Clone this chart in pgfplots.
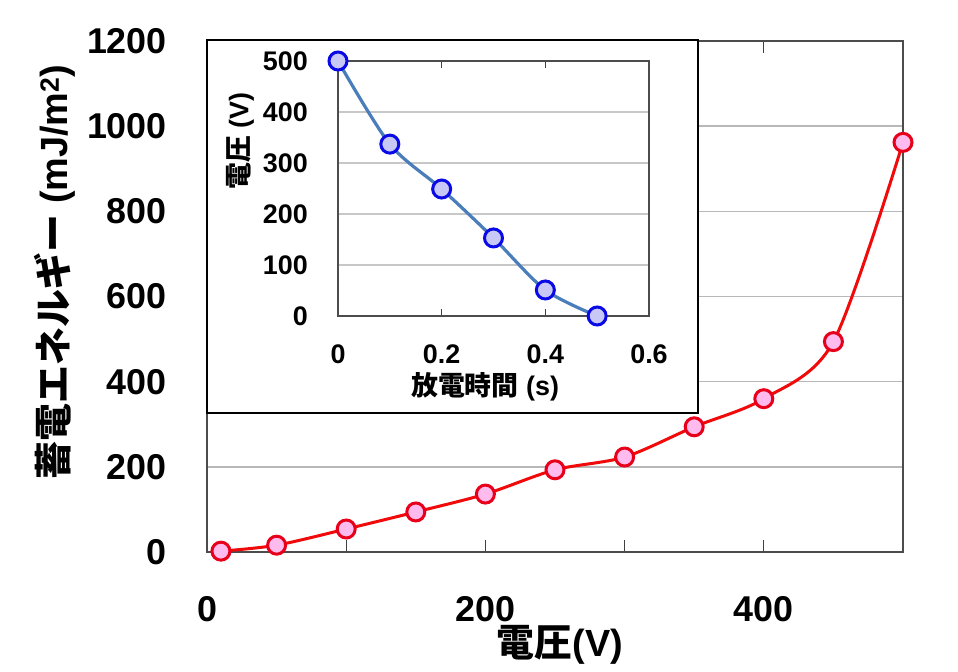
\documentclass[border=0pt]{standalone}
\usepackage{fontspec}
\setmainfont{Liberation Sans}
\newfontfamily\jp{Noto Sans CJK JP}
\usepackage{pgfplots}
\pgfplotsset{compat=1.18}
\definecolor{redline}{HTML}{F00A0A}
\definecolor{redmark}{HTML}{E8001A}
\definecolor{pinkfill}{HTML}{FFBBEE}
\definecolor{blueline}{HTML}{4A7EBB}
\definecolor{bluemark}{HTML}{0A0AE6}
\definecolor{bluefill}{HTML}{C8C8F6}
\begin{document}
\begin{tikzpicture}
\useasboundingbox (0,0) rectangle (958bp,672bp);
% main axis
\begin{axis}[
  at={(207bp,120bp)}, anchor=south west, scale only axis,
  width=696bp, height=511bp,
  xmin=0, xmax=500, ymin=0, ymax=1200,
  xtick={0,100,200,300,400,500},
  xticklabels={0,,200,,400,},
  ytick={0,200,400,600,800,1000,1200},
  yticklabels={0,200,400,600,800,1000,1200},
  ymajorgrids,
  grid style={black!28, line width=1.6bp},
  axis line style={black!70, line width=1.3bp},
  tick align=inside,
  major tick length=12bp,
  ytick style={draw=none},
  xtick style={black!75, line width=1.3bp},
  /pgf/number format/assume math mode=true,
  tick label style={font=\bfseries\fontsize{36}{36}\selectfont, inner sep=0pt},
  yticklabel style={xshift=-40bp, anchor=east},
  xticklabel style={yshift=-44bp, anchor=north},
  xlabel={{\jp\bfseries 電圧}(V)},
  ylabel={{\jp\bfseries 蓄電エネルギー} (mJ/m\textsuperscript{2})},
  label style={font=\bfseries\fontsize{38}{38}\selectfont},
  xlabel style={at={(axis description cs:0.507,-0.182)}, anchor=center},
  ylabel style={at={(axis description cs:-0.218,0.548)}, anchor=center},
  clip=false,
]
\addplot[redline, line width=3bp, smooth, tension=0.5,
  mark=*, mark size=9bp, mark options={draw=redmark, fill=pinkfill, line width=3bp}]
  coordinates {(10,2) (50,16) (100,54) (150,94) (200,136) (250,193) (300,223) (350,294) (400,360) (450,494) (500,962)};
\end{axis}
% inset frame
\draw[black, line width=1.2bp, fill=white] (207bp,259bp) rectangle (698bp,632bp);
\begin{axis}[
  at={(338bp,356bp)}, anchor=south west, scale only axis,
  width=311bp, height=255bp,
  xmin=0, xmax=0.6, ymin=0, ymax=500,
  xtick={0,0.2,0.4,0.6},
  xticklabels={0,0.2,0.4,0.6},
  ytick={0,100,200,300,400,500},
  yticklabels={0,100,200,300,400,500},
  ymajorgrids,
  grid style={black!22, line width=1.5bp},
  axis line style={black!70, line width=1.1bp},
  tick align=inside,
  major tick length=7bp,
  ytick style={draw=none},
  xtick style={black!75, line width=1.1bp},
  /pgf/number format/assume math mode=true,
  tick label style={font=\bfseries\fontsize{27}{27}\selectfont, inner sep=0pt},
  yticklabel style={xshift=-30bp, anchor=east},
  xticklabel style={yshift=-29bp, anchor=north},
  xlabel={{\jp\bfseries 放電時間} (s)},
  ylabel={{\jp\bfseries 電圧} (V)},
  label style={font=\bfseries\fontsize{27}{27}\selectfont},
  xlabel style={at={(axis description cs:0.473,-0.278)}, anchor=center},
  ylabel style={at={(axis description cs:-0.315,0.686)}, anchor=center},
  clip=false,
]
\addplot[blueline, line width=3.2bp, smooth, tension=0.5,
  mark=*, mark size=9bp, mark options={draw=bluemark, fill=bluefill, line width=3bp}]
  coordinates {(0,500) (0.1,337) (0.2,249) (0.3,153) (0.4,51) (0.5,0)};
\end{axis}
\end{tikzpicture}
\end{document}
